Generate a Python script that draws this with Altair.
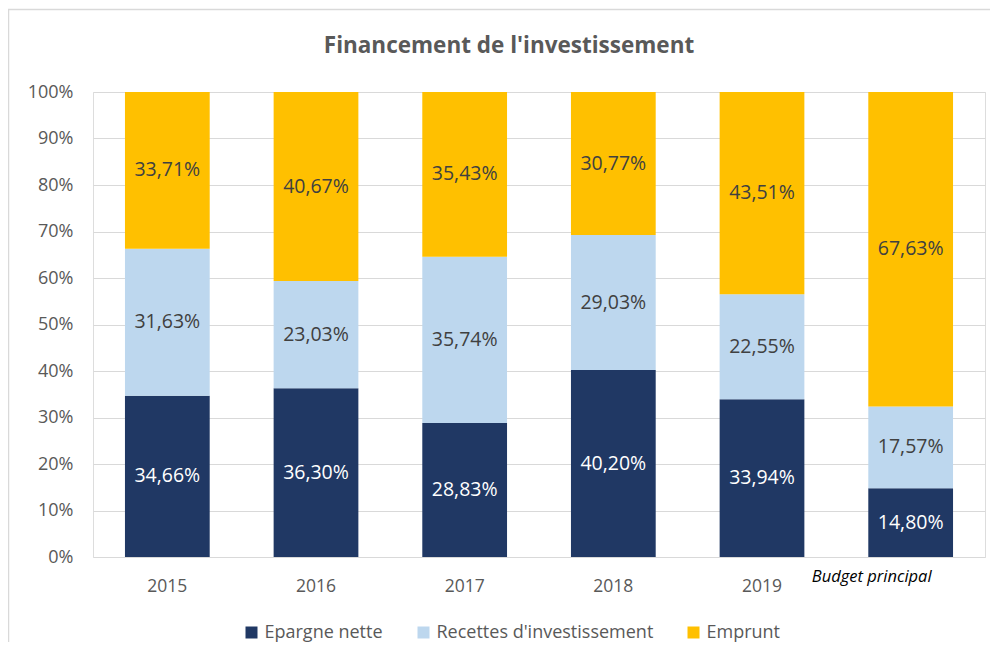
import altair as alt
import pandas as pd

years = ["2015", "2016", "2017", "2018", "2019", "Budget principal"]
series = ["Epargne nette", "Recettes d'investissement", "Emprunt"]
epargne = [34.66, 36.30, 28.83, 40.20, 33.94, 14.80]
recettes = [31.63, 23.03, 35.74, 29.03, 22.55, 17.57]
emprunt = [33.71, 40.67, 35.43, 30.77, 43.51, 67.63]
colors = ["#203864", "#BDD7EE", "#FFC000"]
title_text = "Financement de l'investissement"

rows = []
for i, y in enumerate(years):
    for k, (s, vals) in enumerate(zip(series, [epargne, recettes, emprunt])):
        rows.append({"year": y, "serie": s, "ord": k, "value": vals[i]})
df = pd.DataFrame(rows)

W, H = 892, 465
FONT = "Open Sans"
GRAY = "#595959"
BP = "datum.value == 'Budget principal'"

base = alt.Chart(df)

xenc = alt.X(
    "year:N",
    sort=years,
    title=None,
    scale=alt.Scale(paddingInner=0.43, paddingOuter=0.215),
    axis=alt.Axis(
        domain=False,
        ticks=False,
        labelAngle=0,
        labelFont=FONT,
        labelFontSize={"condition": {"test": BP, "value": 16.5}, "value": 17.5},
        labelColor={"condition": {"test": BP, "value": "#000000"}, "value": GRAY},
        labelFontStyle={"condition": {"test": BP, "value": "italic"}, "value": "normal"},
        labelOffset={"condition": {"test": BP, "value": -39}, "value": 0},
        labelPadding={"condition": {"test": BP, "value": 11}, "value": 20},
        labelLimit=0,
    ),
)

bars = base.mark_bar().encode(
    x=xenc,
    y=alt.Y(
        "value:Q",
        stack="zero",
        title=None,
        scale=alt.Scale(domain=[0, 100]),
        axis=alt.Axis(
            values=list(range(0, 101, 10)),
            labelExpr="datum.value + '%'",
            domain=False,
            ticks=False,
            grid=True,
            gridColor="#d9d9d9",
            gridWidth=1,
            labelFont=FONT,
            labelFontSize=18,
            labelColor=GRAY,
            labelPadding=20,
        ),
    ),
    color=alt.Color(
        "serie:N",
        sort=series,
        scale=alt.Scale(domain=series, range=colors),
        legend=alt.Legend(
            title=None,
            orient="none",
            direction="horizontal",
            legendX=149.5,
            legendY=531.5,
            symbolType="square",
            symbolSize=144,
            symbolStrokeWidth=0,
            labelFont=FONT,
            labelFontSize=18,
            labelColor=GRAY,
            labelOffset=4,
            labelLimit=0,
            columnPadding=31,
            padding=0,
        ),
    ),
    order=alt.Order("ord:Q"),
)

labels = base.transform_window(
    cum="sum(value)", groupby=["year"], sort=[alt.SortField("ord")], frame=[None, 0]
).transform_calculate(
    mid="datum.cum - datum.value / 2",
    txt="replace(format(datum.value, '.2f'), '.', ',') + '%'",
).mark_text(font=FONT, fontSize=19.5, baseline="middle").encode(
    x=alt.X("year:N", sort=years),
    y=alt.Y("mid:Q"),
    text="txt:N",
    color=alt.condition(alt.datum.ord == 0, alt.value("#FFFFFF"), alt.value("#404040")),
)

one = alt.Chart(pd.DataFrame({"t": [title_text]}))

frame = one.mark_rect(fill=None, stroke="#d9d9d9", strokeWidth=1.5).encode(
    x=alt.value(-84.5), x2=alt.value(W + 40),
    y=alt.value(-82.5), y2=alt.value(H + 120),
)

title = one.mark_text(
    font=FONT, fontSize=22.5, fontWeight="bold", color=GRAY, baseline="middle", align="center"
).encode(x=alt.value(W / 2 - 30), y=alt.value(-46), text="t:N")

chart = alt.layer(frame, bars, labels, title).properties(
    width=W,
    height=H,
    autosize=alt.AutoSizeParams(type="none"),
    padding={"left": 85, "top": 84, "right": 5, "bottom": 85},
).configure_view(stroke=None).configure(background="white")

chart.save("out.html", embed_options={"renderer": "svg", "actions": False})
